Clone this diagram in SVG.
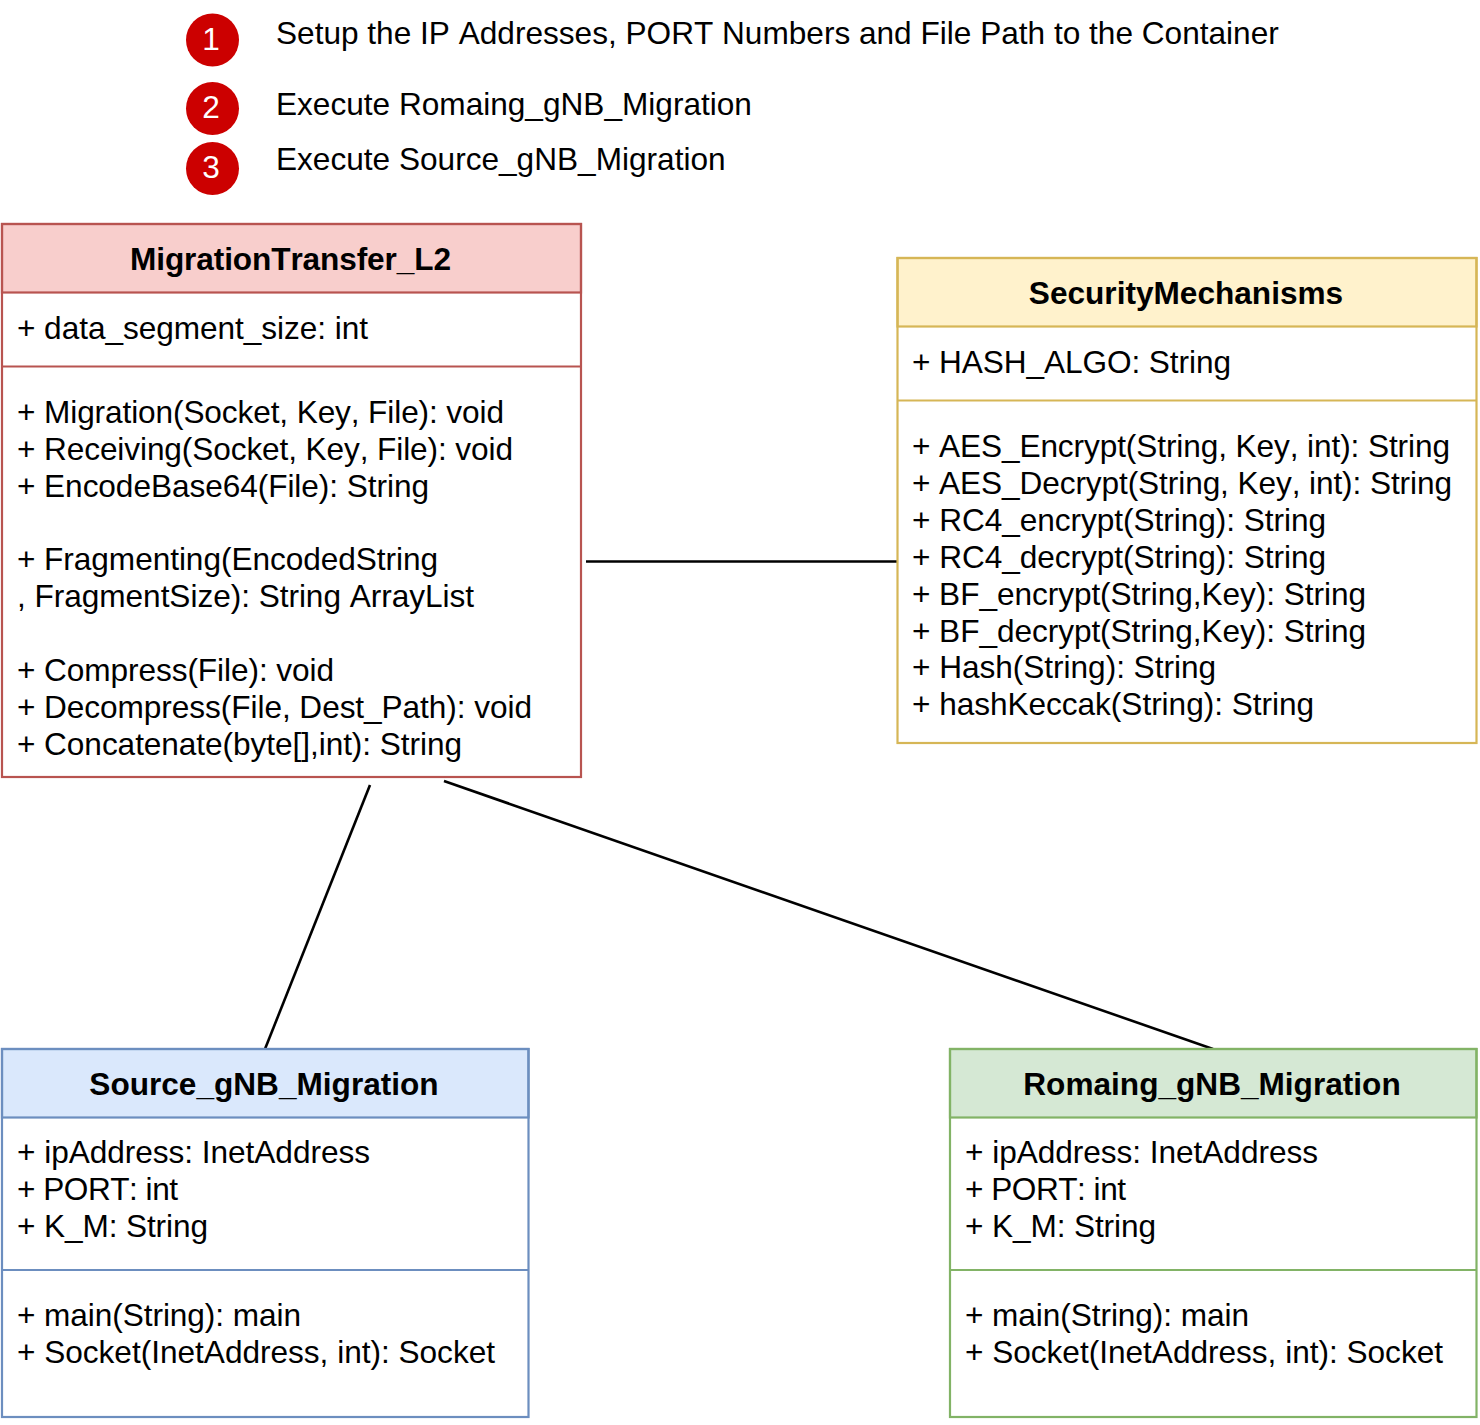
<svg xmlns="http://www.w3.org/2000/svg" width="1480" height="1425" viewBox="0 0 1480 1425">
<style>
text{font-family:"Liberation Sans",Arial,sans-serif;font-size:31.6px;fill:#000;font-kerning:none}
.t{font-weight:bold;text-anchor:middle}
.b{fill:none;stroke-width:2.2}
.h{stroke-width:2.2}
.c{fill:#cc0000}
.n{fill:#fff;text-anchor:middle}
.cn{stroke:#000;stroke-width:2.6;fill:none}
.r{stroke:#b85450}.y{stroke:#d6b656}.bl{stroke:#6c8ebf}.g{stroke:#82b366}
</style>
<rect width="1480" height="1425" fill="#fff"/>
<g id="legend">
<circle class="c" cx="212.500" cy="40" r="26.500"/><text class="n" x="211" y="50">1</text>
<circle class="c" cx="212.500" cy="108.500" r="26.500"/><text class="n" x="211" y="118">2</text>
<circle class="c" cx="212.500" cy="168.500" r="26.500"/><text class="n" x="211" y="178">3</text>
<text x="276" y="44">Setup the IP Addresses, PORT Numbers and File Path to the Container</text>
<text x="276" y="115">Execute Romaing_gNB_Migration</text>
<text x="276" y="170">Execute Source_gNB_Migration</text>
</g>
<g id="connectors">
<line class="cn" x1="586" y1="561.500" x2="897" y2="561.500"/>
<line class="cn" x1="370" y1="785" x2="265" y2="1049"/>
<line class="cn" x1="444" y1="781" x2="1213" y2="1049"/>
</g>
<g id="MigrationTransfer_L2">
<rect x="2" y="224" width="579" height="68.500" fill="#f8cecc" class="r h"/>
<rect x="2" y="224" width="579" height="553" class="r b"/>
<line x1="2" y1="366.500" x2="581" y2="366.500" class="r h"/>
<text class="t" x="290.500" y="270" textLength="321">MigrationTransfer_L2</text>
<text x="17" y="339" textLength="351">+ data_segment_size: int</text>
<text x="17" y="423" textLength="487">+ Migration(Socket, Key, File): void</text>
<text x="17" y="460" textLength="496">+ Receiving(Socket, Key, File): void</text>
<text x="17" y="497" textLength="412">+ EncodeBase64(File): String</text>
<text x="17" y="570" textLength="421">+ Fragmenting(EncodedString</text>
<text x="17" y="607" textLength="457">, FragmentSize): String ArrayList</text>
<text x="17" y="681" textLength="317">+ Compress(File): void</text>
<text x="17" y="718" textLength="515">+ Decompress(File, Dest_Path): void</text>
<text x="17" y="755" textLength="445">+ Concatenate(byte[],int): String</text>
</g>
<g id="SecurityMechanisms">
<rect x="897.500" y="258" width="579" height="68.500" fill="#fff2cc" class="y h"/>
<rect x="897.500" y="258" width="579" height="485" class="y b"/>
<line x1="897.500" y1="400.500" x2="1476.500" y2="400.500" class="y h"/>
<text class="t" x="1186" y="304">SecurityMechanisms</text>
<text x="912" y="373" textLength="319">+ HASH_ALGO: String</text>
<text x="912" y="457" textLength="538">+ AES_Encrypt(String, Key, int): String</text>
<text x="912" y="494" textLength="540">+ AES_Decrypt(String, Key, int): String</text>
<text x="912" y="531" textLength="414">+ RC4_encrypt(String): String</text>
<text x="912" y="568" textLength="414">+ RC4_decrypt(String): String</text>
<text x="912" y="605" textLength="454">+ BF_encrypt(String,Key): String</text>
<text x="912" y="642" textLength="454">+ BF_decrypt(String,Key): String</text>
<text x="912" y="678" textLength="304">+ Hash(String): String</text>
<text x="912" y="715" textLength="402">+ hashKeccak(String): String</text>
</g>
<g id="Source_gNB_Migration">
<rect x="2" y="1049" width="526.500" height="68.500" fill="#dae8fc" class="bl h"/>
<rect x="2" y="1049" width="526.500" height="368" class="bl b"/>
<line x1="2" y1="1270" x2="528.500" y2="1270" class="bl h"/>
<text class="t" x="264" y="1095">Source_gNB_Migration</text>
<text x="17" y="1163" textLength="353">+ ipAddress: InetAddress</text>
<text x="17" y="1200" textLength="161">+ PORT: int</text>
<text x="17" y="1237" textLength="191">+ K_M: String</text>
<text x="17" y="1326" textLength="284">+ main(String): main</text>
<text x="17" y="1363" textLength="478">+ Socket(InetAddress, int): Socket</text>
</g>
<g id="Romaing_gNB_Migration">
<rect x="950" y="1049" width="526.500" height="68.500" fill="#d5e8d4" class="g h"/>
<rect x="950" y="1049" width="526.500" height="368" class="g b"/>
<line x1="950" y1="1270" x2="1476.500" y2="1270" class="g h"/>
<text class="t" x="1212" y="1095">Romaing_gNB_Migration</text>
<text x="965" y="1163" textLength="353">+ ipAddress: InetAddress</text>
<text x="965" y="1200" textLength="161">+ PORT: int</text>
<text x="965" y="1237" textLength="191">+ K_M: String</text>
<text x="965" y="1326" textLength="284">+ main(String): main</text>
<text x="965" y="1363" textLength="478">+ Socket(InetAddress, int): Socket</text>
</g>
</svg>
